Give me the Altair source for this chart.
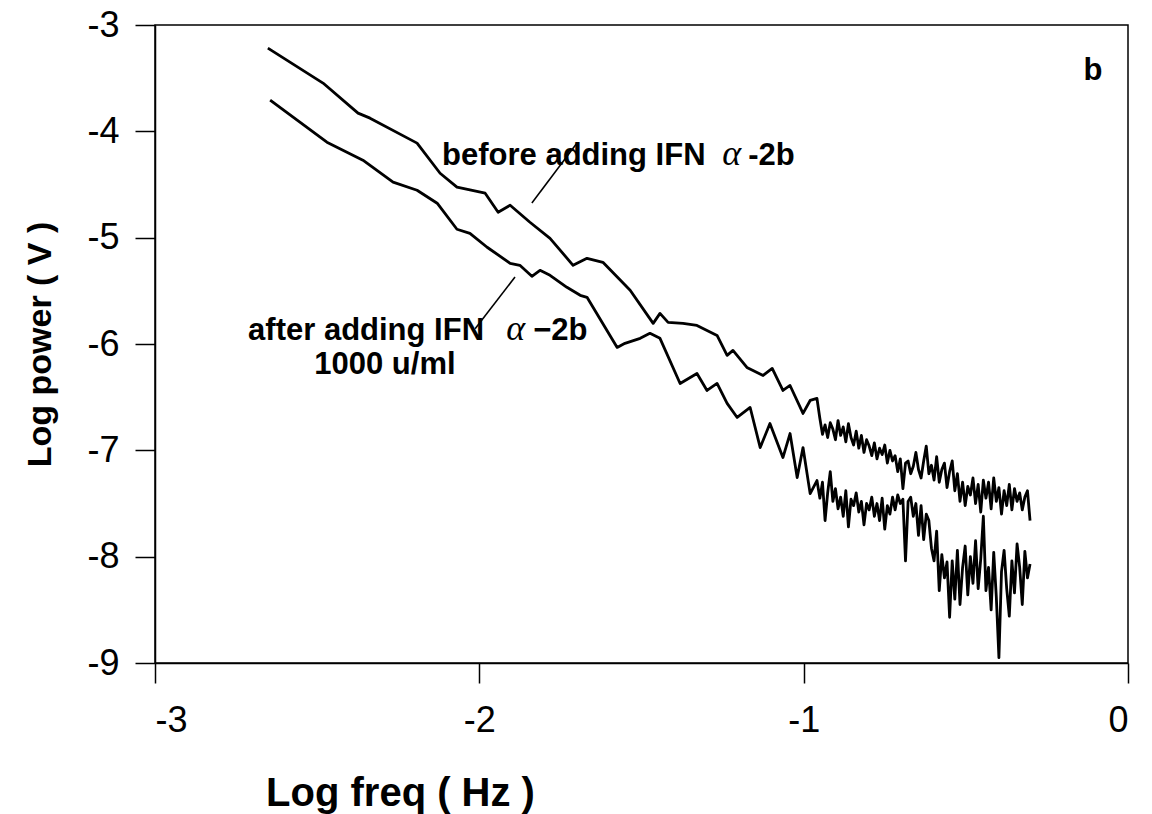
import altair as alt
import pandas as pd

# "before adding IFN alpha-2b" spectrum (log freq, log power)
before_x = [-2.652, -2.482, -2.374, -2.337, -2.192, -2.121, -2.069, -1.982, -1.942, -1.905,
            -1.844, -1.782, -1.711, -1.668, -1.619, -1.535, -1.464, -1.443, -1.418, -1.372,
            -1.329, -1.267, -1.236, -1.218, -1.175, -1.125, -1.097, -1.064, -1.042, -1.002,
            -0.980, -0.959]
before_y = [-3.217, -3.546, -3.829, -3.876, -4.111, -4.394, -4.525, -4.582, -4.761, -4.695,
            -4.855, -5.006, -5.260, -5.194, -5.232, -5.495, -5.806, -5.712, -5.797, -5.806,
            -5.825, -5.919, -6.107, -6.060, -6.220, -6.296, -6.230, -6.437, -6.390, -6.653,
            -6.531, -6.512]
# noisy high-frequency tail, both series sampled at these frequencies
tail_x = [-0.950, -0.942, -0.934, -0.926, -0.918, -0.910, -0.902, -0.894, -0.886, -0.878,
          -0.870, -0.862, -0.854, -0.846, -0.838, -0.830, -0.822, -0.814, -0.806, -0.798,
          -0.790, -0.782, -0.774, -0.766, -0.758, -0.750, -0.742, -0.734, -0.726, -0.718,
          -0.710, -0.702, -0.694, -0.686, -0.678, -0.670, -0.662, -0.654, -0.646, -0.638,
          -0.630, -0.622, -0.614, -0.606, -0.598, -0.590, -0.582, -0.574, -0.566, -0.558,
          -0.550, -0.542, -0.534, -0.526, -0.518, -0.510, -0.502, -0.494, -0.486, -0.478,
          -0.470, -0.462, -0.454, -0.446, -0.438, -0.430, -0.422, -0.414, -0.406, -0.398,
          -0.390, -0.382, -0.374, -0.366, -0.358, -0.350, -0.342, -0.334, -0.326, -0.318,
          -0.310, -0.302]
before_tail_y = [-6.70, -6.85, -6.76, -6.88, -6.74, -6.80, -6.90, -6.72, -6.86, -6.78,
                 -6.92, -6.75, -6.88, -6.95, -6.82, -6.98, -6.86, -7.02, -6.90, -6.96,
                 -7.05, -6.93, -7.08, -6.98, -7.04, -6.95, -7.12, -7.00, -7.10, -7.05,
                 -7.20, -7.08, -7.36, -7.12, -7.10, -7.22, -7.15, -7.02, -7.18, -7.26,
                 -7.10, -6.96, -7.22, -7.14, -7.28, -7.06, -7.30, -7.18, -7.12, -7.35,
                 -7.20, -7.10, -7.38, -7.22, -7.48, -7.30, -7.52, -7.34, -7.42, -7.26,
                 -7.50, -7.32, -7.58, -7.28, -7.45, -7.30, -7.55, -7.26, -7.48, -7.35,
                 -7.60, -7.38, -7.52, -7.32, -7.56, -7.36, -7.48, -7.40, -7.56, -7.44,
                 -7.38, -7.66]

# "after adding IFN alpha-2b 1000 u/ml" spectrum
after_x = [-2.645, -2.470, -2.359, -2.266, -2.192, -2.130, -2.069, -2.029, -1.976, -1.905,
           -1.875, -1.838, -1.813, -1.782, -1.730, -1.689, -1.668, -1.575, -1.551, -1.504,
           -1.474, -1.443, -1.381, -1.329, -1.298, -1.267, -1.236, -1.205, -1.165, -1.134,
           -1.104, -1.064, -1.042, -1.020, -1.002, -0.980, -0.959]
after_y = [-3.706, -4.102, -4.271, -4.478, -4.554, -4.676, -4.921, -4.959, -5.090, -5.241,
           -5.260, -5.363, -5.307, -5.354, -5.467, -5.542, -5.561, -6.032, -5.994, -5.947,
           -5.900, -5.947, -6.371, -6.277, -6.437, -6.371, -6.559, -6.691, -6.597, -6.974,
           -6.748, -7.068, -6.842, -7.256, -6.974, -7.407, -7.284]
after_tail_y = [-7.45, -7.30, -7.66, -7.40, -7.20, -7.48, -7.36, -7.55, -7.44, -7.62,
                -7.38, -7.72, -7.46, -7.52, -7.40, -7.58, -7.48, -7.70, -7.50, -7.56,
                -7.44, -7.62, -7.50, -7.66, -7.45, -7.74, -7.52, -7.60, -7.44, -7.56,
                -7.42, -7.50, -7.46, -8.04, -7.48, -7.44, -7.62, -7.50, -7.80, -7.52,
                -7.84, -7.60, -7.66, -7.92, -8.04, -7.76, -8.32, -7.98, -8.20, -8.05,
                -8.57, -8.04, -8.40, -7.94, -8.45, -8.10, -7.90, -8.36, -8.00, -8.25,
                -7.85, -8.30, -8.02, -7.62, -8.32, -8.10, -8.50, -7.96, -8.38, -8.95,
                -8.14, -7.94, -8.30, -8.56, -8.04, -8.34, -7.88, -8.10, -8.45, -7.95,
                -8.20, -8.07]

x_ticks = [-3, -2, -1, 0]
y_ticks = [-9, -8, -7, -6, -5, -4, -3]

# annotation text (bold sans pieces)
ann_text = ["before adding IFN", "-2b", "after adding IFN", "\u22122b"]
ann_x = [-2.115, -1.171, -2.713, -1.834]
ann_y = [-4.318, -4.318, -5.966, -5.966]
ann_c_text = ["1000 u/ml", "b"]
ann_c_x = [-2.291, -0.108]
ann_c_y = [-6.285, -3.518]
# greek alpha pieces (italic serif)
alpha_x = [-1.222, -1.888]
alpha_y = [-4.318, -5.966]
# leader lines
lead_x = [-1.700, -2.013]
lead_y = [-4.114, -5.856]
lead_x2 = [-1.838, -1.890]
lead_y2 = [-4.673, -5.370]

bx = before_x + tail_x
by = before_y + before_tail_y
ax = after_x + tail_x
ay = after_y + after_tail_y
df = pd.concat([
    pd.DataFrame({"f": bx, "p": by, "s": "before", "o": range(len(bx))}),
    pd.DataFrame({"f": ax, "p": ay, "s": "after", "o": range(len(ax))}),
])
ann = pd.DataFrame({"t": ann_text, "x": ann_x, "y": ann_y})
annc = pd.DataFrame({"t": ann_c_text, "x": ann_c_x, "y": ann_c_y})
alp = pd.DataFrame({"t": ["\u03b1"] * 2, "x": alpha_x, "y": alpha_y})
lead = pd.DataFrame({"x": lead_x, "y": lead_y, "x2": lead_x2, "y2": lead_y2})

xs = alt.Scale(domain=[-3, 0], nice=False, zero=False)
ys = alt.Scale(domain=[-9, -3], nice=False, zero=False)

FONT = "Liberation Sans"

lines = alt.Chart(df).mark_line(color="black", strokeWidth=2.8, strokeJoin="round").encode(
    x=alt.X("f:Q", scale=xs, axis=alt.Axis(
        values=x_ticks, labelExpr="'' + datum.value", title="Log freq ( Hz )", grid=False,
        domainColor="black", domainWidth=1.5, tickColor="black", tickWidth=1.5, tickSize=20,
        labelFontSize=36, labelFont=FONT, labelColor="black", labelPadding=20,
        titleFontSize=40, titleFont=FONT, titleFontWeight="bold", titleColor="black",
        titleX=245, titleY=142, titleAnchor="start", titleAlign="center", titleBaseline="alphabetic")),
    y=alt.Y("p:Q", scale=ys, axis=alt.Axis(
        values=y_ticks, labelExpr="'' + datum.value", title="Log power ( V )", grid=False,
        domainColor="black", domainWidth=1.5, tickColor="black", tickWidth=1.5, tickSize=20,
        labelFontSize=36, labelFont=FONT, labelColor="black", labelPadding=16,
        titleFontSize=34, titleFont=FONT, titleFontWeight="bold", titleColor="black",
        titleX=-115, titleY=319, titleAngle=270, titleAlign="center", titleBaseline="middle")),
    detail="s:N",
    order="o:Q",
)

texts_left = alt.Chart(ann).mark_text(
    font=FONT, fontWeight="bold", fontSize=31, color="black", baseline="alphabetic", align="left"
).encode(x=alt.X("x:Q", scale=xs), y=alt.Y("y:Q", scale=ys), text="t:N")
texts_center = alt.Chart(annc).mark_text(
    font=FONT, fontWeight="bold", fontSize=31, color="black", baseline="alphabetic", align="center"
).encode(x=alt.X("x:Q", scale=xs), y=alt.Y("y:Q", scale=ys), text="t:N")
alphas = alt.Chart(alp).mark_text(
    font="Liberation Serif", fontStyle="italic", fontSize=36, color="black", baseline="alphabetic", align="center"
).encode(x=alt.X("x:Q", scale=xs), y=alt.Y("y:Q", scale=ys), text="t:N")
leaders = alt.Chart(lead).mark_rule(color="black", strokeWidth=1.6).encode(
    x=alt.X("x:Q", scale=xs), y=alt.Y("y:Q", scale=ys), x2="x2:Q", y2="y2:Q")

chart = alt.layer(lines, leaders, texts_left, texts_center, alphas).properties(
    width=973, height=638,
    autosize=alt.AutoSizeParams(type="none"),
    padding={"left": 155, "top": 25, "right": 24, "bottom": 151},
    background="white",
).configure_view(stroke="black", strokeWidth=1.5)

chart.save("out.html", embed_options={"renderer": "svg", "actions": False})
